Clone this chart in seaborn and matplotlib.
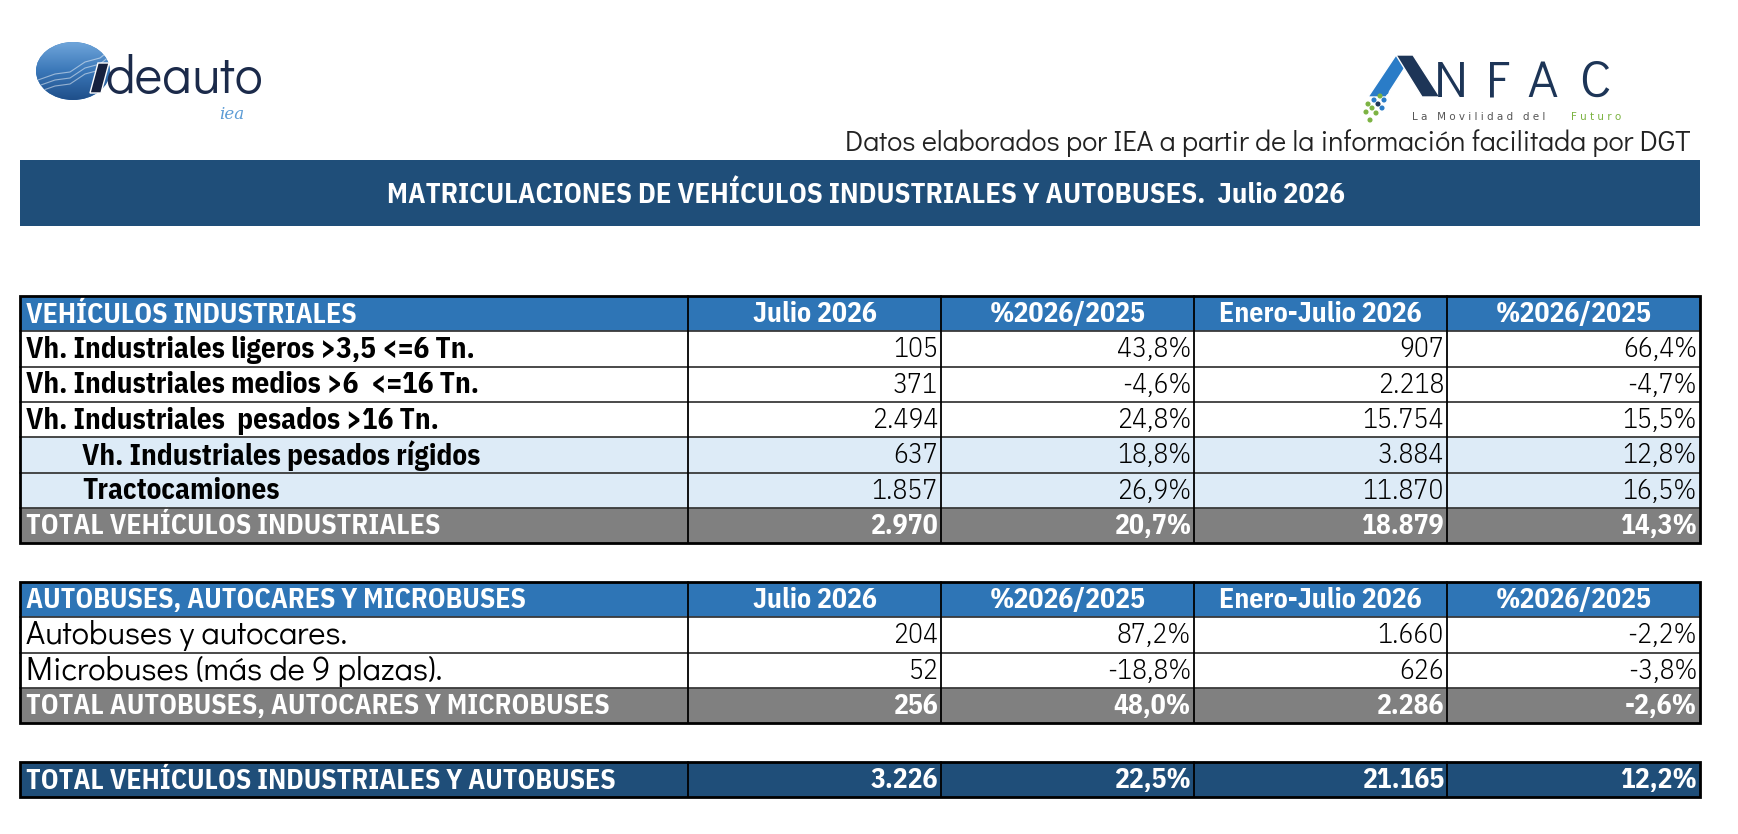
import numpy as np
import matplotlib
matplotlib.use("Agg")
import matplotlib.pyplot as plt
from matplotlib.patches import Rectangle, Ellipse, Polygon
import seaborn as sns

# ---- datos ----
source_note = "Datos elaborados por IEA a partir de la información facilitada por DGT"
title = "MATRICULACIONES DE VEHÍCULOS INDUSTRIALES Y AUTOBUSES.  Julio 2026"
col_headers = ["Julio 2026", "%2026/2025", "Enero-Julio 2026", "%2026/2025"]

ind_title = "VEHÍCULOS INDUSTRIALES"
ind_labels = ["Vh. Industriales ligeros >3,5 <=6 Tn.",
              "Vh. Industriales medios >6  <=16 Tn.",
              "Vh. Industriales  pesados >16 Tn.",
              "Vh. Industriales pesados rígidos",
              "Tractocamiones"]
ind_julio = [105, 371, 2494, 637, 1857]
ind_julio_pct = [43.8, -4.6, 24.8, 18.8, 26.9]
ind_acum = [907, 2218, 15754, 3884, 11870]
ind_acum_pct = [66.4, -4.7, 15.5, 12.8, 16.5]
ind_total_label = "TOTAL VEHÍCULOS INDUSTRIALES"
ind_total = [2970, 20.7, 18879, 14.3]

bus_title = "AUTOBUSES, AUTOCARES Y MICROBUSES"
bus_labels = ["Autobuses y autocares.", "Microbuses (más de 9 plazas)."]
bus_julio = [204, 52]
bus_julio_pct = [87.2, -18.8]
bus_acum = [1660, 626]
bus_acum_pct = [-2.2, -3.8]
bus_total_label = "TOTAL AUTOBUSES, AUTOCARES Y MICROBUSES"
bus_total = [256, 48.0, 2286, -2.6]

grand_label = "TOTAL VEHÍCULOS INDUSTRIALES Y AUTOBUSES"
grand_total = [3226, 22.5, 21165, 12.2]

# ---- estilo ----
sns.set_theme(style="white")
COND = ["IBM Plex Sans Condensed", "DejaVu Sans"]
GOTHIC = ["Didact Gothic", "Questrial", "DejaVu Sans"]
plt.rcParams["font.family"] = COND

DARK_BLUE = "#1F4E79"
MID_BLUE = "#2E75B6"
LIGHT_BLUE = "#DDEBF7"
GREY = "#808080"

W, H = 1738, 834
fig = plt.figure(figsize=(W / 100, H / 100), dpi=100)
ax = fig.add_axes([0, 0, 1, 1])
ax.set_xlim(0, W)
ax.set_ylim(H, 0)
ax.axis("off")

col_x = [20, 688, 941, 1194, 1447, 1700]
ROW_H = 35.3


def fmt_int(v):
    return f"{v:,}".replace(",", ".")


def fmt_pct(v):
    return f"{v:.1f}%".replace(".", ",")


def row_values(vals):
    return [fmt_int(vals[0]), fmt_pct(vals[1]), fmt_int(vals[2]), fmt_pct(vals[3])]


def draw_row(y, label, cells, bg, color, kind="body", indent=0):
    # kind: header / body / plain / total
    ax.add_patch(Rectangle((col_x[0], y), col_x[-1] - col_x[0], ROW_H,
                           facecolor=bg, edgecolor="none", zorder=1))
    yc = y + ROW_H / 2 + 1
    if kind == "body":
        ax.text(col_x[0] + 6 + indent, yc, label, ha="left", va="center",
                fontsize=21, color=color, fontweight="bold", zorder=3)
    elif kind == "plain":
        ax.text(col_x[0] + 6, yc, label, ha="left", va="center",
                fontsize=23.5, color=color, family=GOTHIC, zorder=3)
    else:
        ax.text(col_x[0] + 6, yc, label, ha="left", va="center",
                fontsize=20, color=color, fontweight="bold", zorder=3)
    for i, t in enumerate(cells):
        if kind == "header":
            xx, ha = (col_x[i + 1] + col_x[i + 2]) / 2, "center"
        else:
            xx, ha = col_x[i + 2] - 3, "right"
        bold = kind in ("header", "total")
        ax.text(xx, yc, t, ha=ha, va="center", fontsize=20, color=color,
                fontweight="bold" if bold else 300, zorder=3)


def draw_grid(top, n_rows):
    bottom = top + n_rows * ROW_H
    for k in range(1, n_rows):
        ax.plot([col_x[0], col_x[-1]], [top + k * ROW_H] * 2, color="#3a3a3a", lw=1.3, zorder=4)
    for xx in col_x[1:-1]:
        ax.plot([xx, xx], [top, bottom], color="black", lw=1.3, zorder=4)
    ax.add_patch(Rectangle((col_x[0], top), col_x[-1] - col_x[0], bottom - top,
                           facecolor="none", edgecolor="black", lw=2, zorder=5))


# ---- tabla 1 ----
top1 = 296
draw_row(top1, ind_title, col_headers, MID_BLUE, "white", kind="header")
for k, lab in enumerate(ind_labels):
    bg = LIGHT_BLUE if k >= 3 else "white"
    indent = 56 if k >= 3 else 0
    draw_row(top1 + (k + 1) * ROW_H, lab,
             row_values([ind_julio[k], ind_julio_pct[k], ind_acum[k], ind_acum_pct[k]]),
             bg, "black", indent=indent)
draw_row(top1 + 6 * ROW_H, ind_total_label, row_values(ind_total), GREY, "white", kind="total")
draw_grid(top1, 7)

# ---- tabla 2 ----
top2 = 582
draw_row(top2, bus_title, col_headers, MID_BLUE, "white", kind="header")
for k, lab in enumerate(bus_labels):
    draw_row(top2 + (k + 1) * ROW_H, lab,
             row_values([bus_julio[k], bus_julio_pct[k], bus_acum[k], bus_acum_pct[k]]),
             "white", "black", kind="plain")
draw_row(top2 + 3 * ROW_H, bus_total_label, row_values(bus_total), GREY, "white", kind="total")
draw_grid(top2, 4)

# ---- tabla 3 ----
top3 = 762
draw_row(top3, grand_label, row_values(grand_total), DARK_BLUE, "white", kind="total")
draw_grid(top3, 1)

# ---- cabecera ----
ax.add_patch(Rectangle((20, 160), 1680, 66, facecolor=DARK_BLUE, edgecolor="none"))
ax.text(866, 195, title, ha="center", va="center", fontsize=20.5, fontweight="bold",
        color="white")
ax.text(1690, 143, source_note, ha="right", va="center", fontsize=20.5, color="#222222",
        family=GOTHIC)

# logo Ideauto
ell = Ellipse((73, 71), 74, 58, facecolor="#3D7DBE", edgecolor="none", zorder=2)
ax.add_patch(ell)
grad = np.linspace(0, 1, 100).reshape(-1, 1) * np.ones((1, 100))
im = ax.imshow(grad, extent=(36, 110, 100, 42), cmap=sns.blend_palette(
    ["#6FA5DA", "#3A77B8", "#1F4F8A"], as_cmap=True), zorder=2, aspect="auto")
im.set_clip_path(ell)
for off in (0, 6, 12):
    ln, = ax.plot([38, 55, 70, 85, 100, 110], [80 + off, 74 + off, 72 + off, 62 + off, 58 + off, 50 + off],
                  color="white", lw=0.8, alpha=0.5, zorder=3)
    ln.set_clip_path(ell)
ax.add_patch(Polygon([(90, 93), (98, 63), (109, 63), (101, 93)], facecolor="#16213E", zorder=4))
ax.text(105, 93, "deauto", ha="left", va="baseline", fontsize=38, color="#1B2A4A",
        family=GOTHIC, zorder=4)
ax.text(232, 119, "iea", ha="center", va="baseline", fontsize=12, color="#5B9BD5",
        family=["DejaVu Serif"], style="italic", zorder=4)

# logo ANFAC
ax.add_patch(Polygon([(1368, 97), (1396, 55), (1413, 55), (1386, 97)], facecolor="#2A7CC7"))
ax.add_patch(Polygon([(1396, 55), (1413, 55), (1440, 97), (1422, 97)], facecolor="#1D3557"))
dots_x = [1368, 1374, 1380, 1386, 1372, 1378, 1384, 1366, 1376, 1382, 1370]
dots_y = [104, 100, 96, 92, 108, 104, 100, 112, 113, 108, 120]
dots_c = ["#7CB342", "#2A7CC7", "#7CB342", "#2A7CC7", "#7CB342", "#1D3557",
          "#2A7CC7", "#7CB342", "#7CB342", "#2A7CC7", "#7CB342"]
ax.scatter(dots_x, dots_y, s=7, c=dots_c, zorder=3)
for ch, cx in zip("NFAC", [1451, 1498, 1542, 1595]):
    ax.text(cx, 97, ch, ha="center", va="baseline", fontsize=37,
            color="#1D3557", family=GOTHIC)
ax.text(1412, 117, " ".join("La Movilidad del "), ha="left", va="center", fontsize=7.5,
        color="#555555", family=["DejaVu Sans"])
ax.text(1621, 117, " ".join("Futuro"), ha="right", va="center", fontsize=7.5,
        color="#7CB342", family=["DejaVu Sans"])

fig.savefig("out.png", dpi=100, facecolor="white")
